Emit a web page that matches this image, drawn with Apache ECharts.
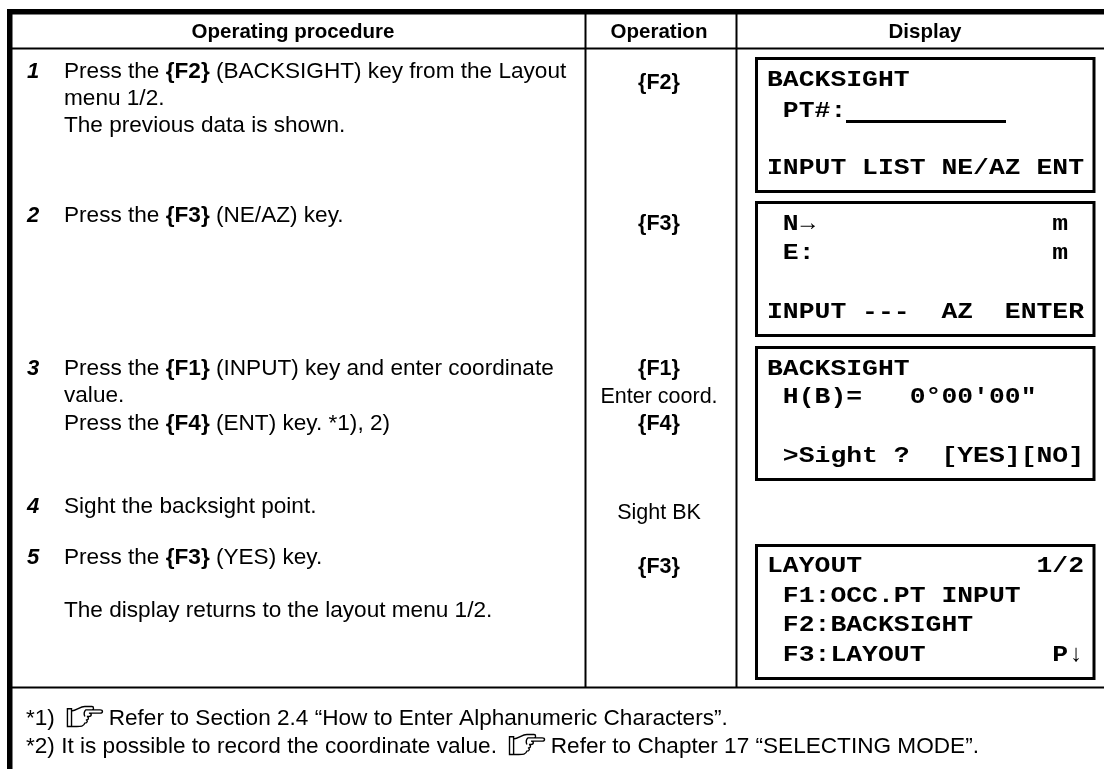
<!DOCTYPE html>
<html>
<head>
<meta charset="utf-8">
<style>
html, body { margin: 0; padding: 0; background: #fff; }
#main { width: 1104px; height: 769px; }
</style>
<script src="https://cdn.jsdelivr.net/npm/echarts@6/dist/echarts.min.js"></script>
</head>
<body>
<div id="main"></div>
<script>
// table content
var headers = ['Operating procedure', 'Operation', 'Display'];
var stepNumbers = ['1', '2', '3', '4', '5'];
var stepLines = [
    ['Press the {F2} (BACKSIGHT) key from the Layout', 'menu 1/2.', 'The previous data is shown.'],
    ['Press the {F3} (NE/AZ) key.'],
    ['Press the {F1} (INPUT) key and enter coordinate', 'value.', 'Press the {F4} (ENT) key. *1), 2)'],
    ['Sight the backsight point.'],
    ['Press the {F3} (YES) key.', '', 'The display returns to the layout menu 1/2.']
];
var operationLines = [
    ['{F2}'],
    ['{F3}'],
    ['{F1}', 'Enter coord.', '{F4}'],
    ['Sight BK'],
    ['{F3}']
];
var screenLines = [
    ['BACKSIGHT', ' PT#:', '', 'INPUT LIST NE/AZ ENT'],
    [' N→               m', ' E:               m', '', 'INPUT ---  AZ  ENTER'],
    ['BACKSIGHT', ' H(B)=   0°00\'00"', '', ' >Sight ?  [YES][NO]'],
    ['LAYOUT           1/2', ' F1:OCC.PT INPUT', ' F2:BACKSIGHT', ' F3:LAYOUT        P↓']
];
var notes = [
    '*1)  ☞ Refer to Section 2.4 “How to Enter Alphanumeric Characters”.',
    '*2) It is possible to record the coordinate value.  ☞ Refer to Chapter 17 “SELECTING MODE”.'
];

// page layout, in pixels of the 1104x769 sheet
var stepY = [[72, 99, 126], [216], [369, 396, 424], [507], [558, 585, 611]];
var operationY = [[83], [224], [369, 397, 424], [513], [567]];
var screenBoxes = [[57, 193], [201, 337], [346, 481], [544, 680]];
var screenY = [[80, 111, 139, 168], [224, 253, 282, 312], [369, 397, 426, 456], [566, 596, 625, 655]];
var noteY = [718.5, 746.5];
var rules = [
    [7, 9, 1104, 14.5],      // top bar
    [7, 9, 12.5, 769],       // left bar
    [12, 47.5, 1104, 49.5],  // under header
    [12, 686.5, 1104, 688.5],// above notes
    [584.5, 14, 586.5, 687], // procedure | operation
    [735.5, 14, 737.5, 687], // operation | display
    [846, 120, 1006, 123]    // PT# entry line
];

var SANS = '"Liberation Sans", Arial, sans-serif';
var MONO = '"Liberation Mono", "Courier New", monospace';
var HEADER_SIZE = 20.5;
var BODY_SIZE = 22.6;
var OPERATION_SIZE = 21.5;
var SCREEN_SIZE = 22.5;
var SCREEN_ADVANCE = 15.85;
var SCREEN_SCALE = SCREEN_ADVANCE / (SCREEN_SIZE * 0.6);
var HAND = 'M1 3H5V19H1Z M5 5C10 5 13 1 18 1H25C27 1 27 4 25 4H19 M22 4H33C36 4 36 7 33 7H22 M22 7C25 7 25 10 22 10H20C22 10 22 13 20 13H19C21 13 21 16 18 16C17 19 14 19 10 19H5 M19 4C17 6 17 8 18 10';

var ctx = document.createElement('canvas').getContext('2d');
function measure(text, font) {
    ctx.font = font;
    return ctx.measureText(text).width;
}

// one flat list of things to paint; the custom series places them through its axes
var marks = [];
function addText(x, y, text, font, align, scale) {
    marks.push({ kind: 'text', x: x, y: y, text: text, font: font, align: align || 'left', scale: scale || 1 });
}
function addRun(x, y, line) {
    // key names such as {F2} are bold, the hand is a drawn sign
    line.split(/(\{F\d\}|☞)/).forEach(function (part) {
        if (!part) return;
        if (part === '☞') {
            marks.push({ kind: 'hand', x: x, y: y - 12, w: 35, h: 20 });
            x += 35;
            return;
        }
        var font = (/^\{F/.test(part) ? 'bold ' : '') + BODY_SIZE + 'px ' + SANS;
        addText(x, y, part, font);
        x += measure(part, font);
    });
}

rules.forEach(function (r) {
    marks.push({ kind: 'rect', x: r[0], y: r[1], x2: r[2], y2: r[3] });
});
screenBoxes.forEach(function (b) {
    marks.push({ kind: 'box', x: 756.5, y: b[0] + 1.5, x2: 1094, y2: b[1] - 1.5 });
});

var boldHeader = 'bold ' + HEADER_SIZE + 'px ' + SANS;
addText(293, 32, headers[0], boldHeader, 'center');
addText(659, 32, headers[1], boldHeader, 'center');
addText(925, 32, headers[2], boldHeader, 'center');

stepNumbers.forEach(function (n, i) {
    addText(27, stepY[i][0], n, 'italic bold 22px ' + SANS);
    stepLines[i].forEach(function (line, j) {
        addRun(64, stepY[i][j], line);
    });
    operationLines[i].forEach(function (line, j) {
        var font = (line.charAt(0) === '{' ? 'bold ' : '') + OPERATION_SIZE + 'px ' + SANS;
        addText(659, operationY[i][j], line, font, 'center');
    });
});

screenLines.forEach(function (lines, i) {
    lines.forEach(function (line, j) {
        // the arrows sit in a thin face, the rest of the screen is bold
        var col = 0;
        line.split(/([→↓])/).forEach(function (part) {
            if (!part) return;
            var right = part === '→', down = part === '↓';
            if (right || down) {
                addText(767 + col * SCREEN_ADVANCE + (right ? -3 : 2), screenY[i][j] - 1, part, '24px ' + SANS);
            } else {
                addText(767 + col * SCREEN_ADVANCE, screenY[i][j], part, 'bold ' + SCREEN_SIZE + 'px ' + MONO, 'left', SCREEN_SCALE);
            }
            col += part.length;
        });
    });
});

notes.forEach(function (line, i) {
    addRun(26, noteY[i], line);
});

var chart = echarts.init(document.getElementById('main'), null, { renderer: 'canvas' });
chart.setOption({
    animation: false,
    backgroundColor: '#ffffff',
    grid: { left: 0, right: 0, top: 0, bottom: 0 },
    xAxis: { type: 'value', min: 0, max: 1104, show: false },
    yAxis: { type: 'value', min: 0, max: 769, inverse: true, show: false },
    series: [{
        type: 'custom',
        coordinateSystem: 'cartesian2d',
        silent: true,
        clip: false,
        data: marks.map(function (m, i) { return [m.x, m.y, i]; }),
        renderItem: function (params, api) {
            var m = marks[api.value(2)];
            var p = api.coord([m.x, m.y]);
            if (m.kind === 'text') {
                return {
                    type: 'text',
                    x: p[0], y: p[1],
                    scaleX: m.scale,
                    style: { text: m.text, font: m.font, fill: '#000', textAlign: m.align, textVerticalAlign: 'middle' }
                };
            }
            if (m.kind === 'hand') {
                return {
                    type: 'path',
                    shape: { pathData: HAND, layout: 'cover', x: p[0], y: p[1], width: m.w, height: m.h },
                    style: { fill: 'none', stroke: '#000', lineWidth: 1.4 }
                };
            }
            var q = api.coord([m.x2, m.y2]);
            var shape = { x: p[0], y: p[1], width: q[0] - p[0], height: q[1] - p[1] };
            if (m.kind === 'box') {
                return { type: 'rect', shape: shape, style: { fill: 'none', stroke: '#000', lineWidth: 3 } };
            }
            return { type: 'rect', shape: shape, style: { fill: '#000' } };
        }
    }]
});
</script>
</body>
</html>
